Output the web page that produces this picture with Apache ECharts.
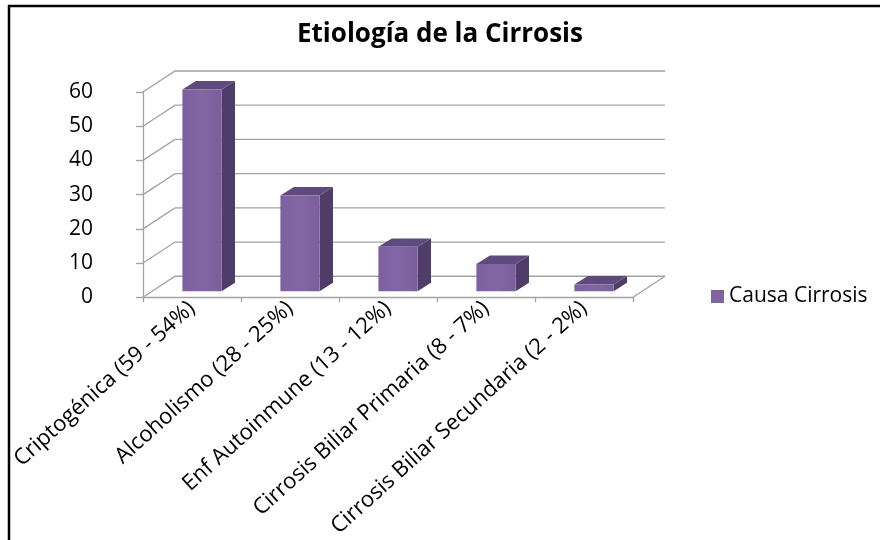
<!DOCTYPE html>
<html>
<head>
<meta charset="utf-8">
<script src="https://cdn.jsdelivr.net/npm/echarts@6/dist/echarts.min.js"></script>
<style>html,body{margin:0;padding:0;background:#fff}#chart{width:880px;height:540px}</style>
</head>
<body>
<div id="chart"></div>
<script>
const titleText = 'Etiología de la Cirrosis';
const seriesName = 'Causa Cirrosis';
const categories = ['Criptogénica (59 - 54%)', 'Alcoholismo (28 - 25%)', 'Enf Autoinmune (13 - 12%)', 'Cirrosis Biliar Primaria (8 - 7%)', 'Cirrosis Biliar Secundaria (2 - 2%)'];
const values = [59, 28, 13, 8, 2];
const yTicks = [0, 10, 20, 30, 40, 50, 60];

const FONT = '"Open Sans", "Noto Sans", sans-serif';
const GRID_COLOR = '#a3a3a3';
const DX = 32, DY = -21;         // depth of the back wall
const chart = echarts.init(document.getElementById('chart'), null, {renderer: 'canvas'});

function wallItem(params, api) {
  const v = api.value(1);
  const p = api.coord([0, v]);
  const w = api.size([1, 0])[0];
  const xl = p[0] - w / 2;
  const xr = xl + w * categories.length;
  const y = p[1];
  const style = {stroke: GRID_COLOR, lineWidth: 1.3, fill: null};
  const children = [{
    type: 'polyline',
    shape: {points: [[xl, y], [xl + DX, y + DY], [xr + DX, y + DY]]},
    style: style
  }];
  if (v === 0) {
    children.push({type: 'line', shape: {x1: xr, y1: y, x2: xr + DX, y2: y + DY}, style: style});
  }
  return {type: 'group', children: children};
}

function barItem(params, api) {
  const i = api.value(0), v = api.value(1);
  const top = api.coord([i, v]);
  const base = api.coord([i, 0]);
  const w = api.size([1, 0])[0];
  const fw = w * 0.40;
  const cx = top[0] + 10;
  const l = cx - fw / 2, r = cx + fw / 2;
  const yt = top[1] - 6, yb = base[1] - 6;
  const ddx = 13.4, ddy = -8.4;
  return {
    type: 'group',
    children: [
      {type: 'polygon', shape: {points: [[r, yt], [r + ddx, yt + ddy], [r + ddx, yb + ddy], [r, yb]]},
        style: {fill: '#4f3c68', stroke: null}},
      {type: 'polygon', shape: {points: [[l, yt], [l + ddx, yt + ddy], [r + ddx, yt + ddy], [r, yt]]},
        style: {fill: '#5f4a7e', stroke: null}},
      {type: 'rect', shape: {x: l, y: yt, width: fw, height: yb - yt},
        style: {fill: new echarts.graphic.LinearGradient(0, 0, 1, 0, [
          {offset: 0, color: '#7d60a0'}, {offset: 0.5, color: '#8266a5'}, {offset: 1, color: '#7b5f9d'}]), stroke: null}}
    ]
  };
}

const option = {
  backgroundColor: '#ffffff',
  animation: false,
  title: {
    text: titleText, left: 'center', top: 17,
    textStyle: {fontFamily: FONT, fontSize: 26, fontWeight: 'bold', color: '#000'}
  },
  legend: {
    data: [seriesName], left: 706, top: 281, icon: 'rect', itemWidth: 13, itemHeight: 13, itemGap: 8,
    textStyle: {fontFamily: FONT, fontSize: 21, color: '#000'}
  },
  grid: {left: 143, top: 92, width: 490, height: 208, containLabel: false},
  xAxis: {
    type: 'category', data: categories,
    axisLine: {show: true, lineStyle: {color: GRID_COLOR, width: 1.3}},
    axisTick: {show: true, length: 5, lineStyle: {color: GRID_COLOR, width: 1.3}},
    axisLabel: {rotate: 42, margin: 8, interval: 0, fontFamily: FONT, fontSize: 22, color: '#000'},
    splitLine: {show: false}
  },
  yAxis: {
    type: 'value', min: 0, max: 60, interval: 10,
    axisLine: {show: true, lineStyle: {color: GRID_COLOR, width: 1.3}},
    axisTick: {show: true, length: 7, lineStyle: {color: GRID_COLOR, width: 1.3}},
    axisLabel: {margin: 50, fontFamily: FONT, fontSize: 21, color: '#000'},
    splitLine: {show: false}
  },
  series: [
    {
      type: 'custom', name: 'walls', clip: false, z: 1, silent: true,
      renderItem: wallItem,
      data: yTicks.map(v => [0, v]),
      encode: {x: 0, y: 1}
    },
    {
      type: 'custom', name: seriesName, clip: false, z: 3,
      itemStyle: {color: '#8064a2'},
      renderItem: barItem,
      data: values.map((v, i) => [i, v]),
      encode: {x: 0, y: 1}
    }
  ],
  graphic: [
    {type: 'line', shape: {x1: 8, y1: 6, x2: 880, y2: 6}, style: {stroke: '#000', lineWidth: 2.5}},
    {type: 'line', shape: {x1: 9, y1: 5, x2: 9, y2: 540}, style: {stroke: '#000', lineWidth: 2.5}}
  ]
};
chart.setOption(option);
</script>
</body>
</html>
